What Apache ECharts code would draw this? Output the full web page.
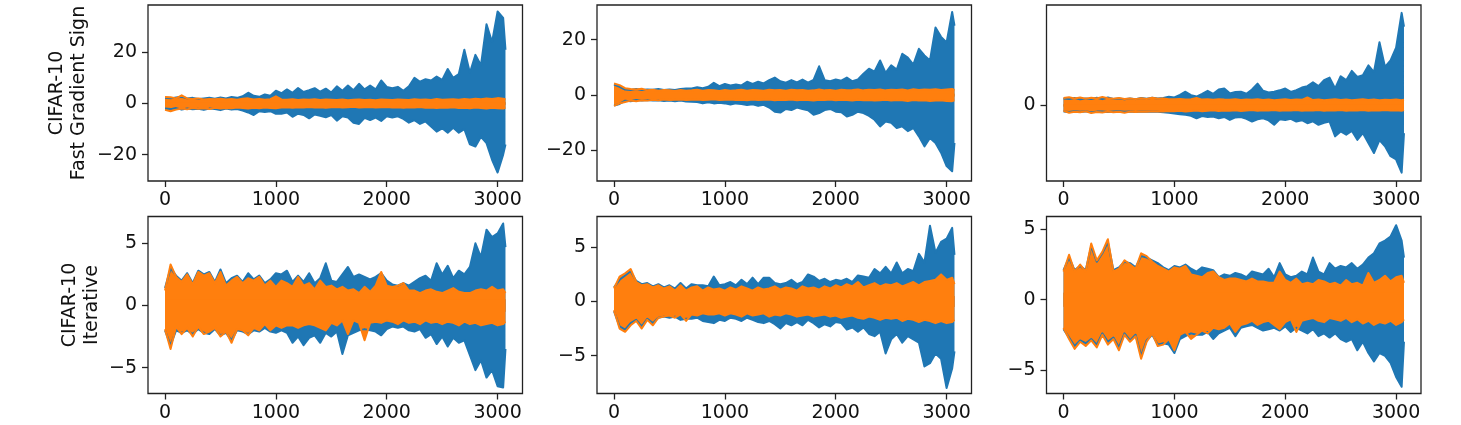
<!DOCTYPE html>
<html><head><meta charset="utf-8">
<script src="https://cdn.jsdelivr.net/npm/echarts@6/dist/echarts.min.js"></script>
<style>html,body{margin:0;padding:0;background:#fff}#c{width:1461px;height:425px}</style>
</head><body><div id="c"></div>
<script>
const sampleX = [0,50,100,150,200,250,300,350,400,450,500,550,600,650,700,750,800,850,900,950,1000,1050,1100,1150,1200,1250,1300,1350,1400,1450,1500,1550,1600,1650,1700,1750,1800,1850,1900,1950,2000,2050,2100,2150,2200,2250,2300,2350,2400,2450,2500,2550,2600,2650,2700,2750,2800,2850,2900,2950,3000,3050,3071];

// Panel 1: CIFAR-10 Fast Gradient Sign, column 1
const fgs1BlueTop = [2.2,2.0,2.3,2.6,2.0,2.2,1.8,2.0,2.2,1.9, 2.3,2.0,2.5,2.2,2.8,4.2,3.0,2.6,3.5,3.0, 5.0,4.0,5.5,4.2,6.0,4.5,5.2,6.0,4.6,5.8, 4.3,6.7,5.0,7.0,5.2,7.7,5.5,7.0,5.5,9.0, 6.5,6.0,6.5,5.0,6.7,10.0,8.5,9.5,9.0,10.5, 9.2,13.5,10.0,11.5,21.0,12.0,19.0,15.0,31.0,24.0, 36.0,33.5,21.0];
const fgs1BlueBot = [-2.0,-2.2,-1.8,-2.4,-2.0,-2.3,-2.1,-2.5,-2.0,-2.2, -2.6,-2.0,-2.4,-2.2,-2.8,-3.5,-4.5,-3.0,-3.3,-3.0, -4.0,-4.0,-3.5,-5.2,-4.0,-4.5,-5.8,-4.3,-4.8,-5.4, -4.5,-6.7,-5.0,-5.5,-7.5,-8.0,-5.6,-6.5,-5.5,-6.8, -5.0,-5.5,-5.0,-6.0,-7.5,-6.5,-8.0,-7.0,-9.0,-11.0, -9.7,-11.4,-9.5,-11.4,-10.0,-16.0,-16.8,-13.0,-15.5,-22.0, -27.0,-20.0,-16.0];
const fgs1OrangeTop = [2.5,2.4,2.0,3.2,2.0,1.8,2.0,1.6,1.8,1.7, 1.9,1.6,1.8,1.5,1.9,2.0,1.6,1.8,1.5,1.7, 2.8,1.6,1.5,1.7,1.4,1.6,1.5,1.7,1.4,1.6, 1.5,1.4,1.6,1.3,1.5,1.6,1.4,1.5,1.3,1.6, 1.5,1.4,1.6,1.5,1.4,1.7,1.5,1.6,1.4,1.8, 1.5,1.6,1.7,1.5,1.8,1.6,1.9,1.7,2.0,1.8, 2.1,1.9,1.7];
const fgs1OrangeBot = [-2.5,-3.0,-2.4,-2.0,-2.3,-1.8,-2.1,-1.9,-2.2,-1.7, -2.0,-1.8,-1.9,-1.6,-1.8,-2.0,-1.7,-1.9,-1.6,-1.8, -1.9,-1.6,-1.5,-1.7,-1.5,-1.6,-1.4,-1.6,-1.5,-1.7, -1.5,-1.4,-1.6,-1.5,-1.3,-1.6,-1.5,-1.4,-1.6,-1.5, -1.4,-1.6,-1.5,-1.7,-1.5,-1.6,-1.4,-1.7,-1.6,-1.8, -1.6,-1.7,-1.5,-1.8,-1.7,-1.9,-1.6,-1.8,-2.0,-1.7, -1.9,-2.0,-1.7];

// Panel 2: Fast Gradient Sign, column 2
const fgs2BlueTop = [3.8,3.0,2.0,1.8,2.2,1.8,2.0,1.9,2.2,1.8, 2.0,1.8,2.2,2.4,2.4,2.8,2.5,3.0,4.4,3.2, 4.0,3.5,3.8,3.5,4.8,4.0,4.8,4.2,5.4,6.3, 5.0,4.5,5.4,4.6,5.6,4.5,5.5,10.4,5.4,5.0, 5.6,5.2,6.3,5.0,5.6,7.7,9.5,8.5,12.5,8.0, 10.7,9.2,14.9,13.5,11.0,16.7,14.3,12.5,24.4,21.0, 19.0,30.0,25.0];
const fgs2BlueBot = [-3.8,-3.2,-2.0,-2.2,-1.8,-2.0,-1.8,-2.0,-1.9,-2.1, -2.0,-2.2,-2.0,-2.3,-2.4,-2.5,-3.0,-2.6,-3.0,-2.8, -3.0,-3.4,-3.0,-3.2,-3.6,-3.3,-3.9,-3.5,-4.5,-6.0, -6.3,-5.0,-5.4,-4.5,-5.0,-5.5,-7.1,-6.5,-5.4,-5.0, -6.0,-6.2,-7.7,-7.1,-6.0,-6.5,-7.5,-8.9,-11.3,-9.5, -10.0,-11.9,-11.3,-13.0,-11.9,-14.9,-18.5,-15.5,-17.3,-20.8, -25.6,-27.5,-17.3];
const fgs2OrangeTop = [4.2,3.6,2.5,2.2,2.0,2.3,1.7,1.9,1.6,1.8, 1.7,1.5,1.8,1.6,1.7,1.9,1.6,1.8,1.7,1.5, 1.8,1.6,1.7,1.9,1.6,1.8,1.7,1.6,1.9,1.7, 1.8,1.6,1.9,1.7,1.8,1.6,1.7,2.0,1.7,1.8, 1.6,1.9,1.7,1.8,2.0,1.7,1.9,1.8,2.0,1.7, 1.9,1.8,2.0,1.7,2.1,1.8,2.0,1.9,2.1,1.8, 2.0,2.2,1.8];
const fgs2OrangeBot = [-3.9,-3.0,-2.5,-2.0,-2.2,-1.9,-2.0,-1.7,-1.9,-1.6, -1.8,-1.7,-1.6,-1.8,-1.7,-1.6,-1.8,-1.7,-1.5,-1.8, -1.7,-1.6,-1.8,-1.7,-1.9,-1.6,-1.8,-1.7,-1.6,-1.9, -1.7,-1.8,-1.6,-1.9,-1.7,-1.8,-2.0,-1.7,-1.8,-1.6, -1.9,-1.7,-1.8,-2.0,-1.7,-1.9,-1.8,-2.0,-1.9,-1.7, -2.0,-1.8,-1.9,-2.1,-1.8,-2.0,-1.9,-2.1,-2.0,-1.9, -2.1,-2.2,-1.9];

// Panel 3: Fast Gradient Sign, column 3
const fgs3BlueTop = [3.0,2.8,3.2,2.6,3.0,2.8,3.3,2.7,3.4,2.8, 3.0,2.6,3.0,2.7,3.2,2.9,3.3,3.0,3.2,3.7, 3.4,4.5,5.9,4.4,3.8,5.0,6.3,5.0,6.9,7.3, 5.2,5.8,5.9,5.0,6.9,9.4,6.3,5.6,5.9,6.5, 7.3,5.8,6.6,7.7,8.3,10.0,8.3,10.9,12.0,7.3, 12.6,10.9,14.9,12.3,13.0,17.3,14.4,27.3,16.6,19.4, 25.0,40.0,34.0];
const fgs3BlueBot = [-2.7,-2.9,-2.5,-2.8,-2.6,-3.0,-2.7,-2.6,-2.9,-2.7, -2.5,-2.8,-2.6,-2.9,-2.7,-2.8,-2.6,-2.8,-3.0,-3.2, -3.5,-3.8,-4.1,-4.5,-5.6,-4.6,-5.0,-4.8,-5.6,-5.0, -6.3,-5.2,-5.0,-5.8,-7.0,-6.0,-5.6,-6.5,-8.4,-6.0, -6.3,-5.8,-7.0,-6.4,-7.7,-6.9,-8.4,-7.5,-7.0,-13.4, -11.3,-12.7,-11.0,-14.9,-12.0,-16.3,-20.6,-15.0,-17.7,-22.0, -23.4,-29.1,-12.0];
const fgs3OrangeTop = [3.2,3.5,3.0,3.4,2.9,3.3,3.0,3.6,3.1,2.9, 3.2,2.8,3.0,2.7,3.1,2.8,3.3,2.9,3.0,2.7, 2.6,2.8,2.5,2.7,3.2,2.5,2.6,2.4,2.7,2.5, 2.4,2.6,2.3,2.5,2.4,2.6,2.3,2.5,2.2,2.4, 2.6,2.3,2.5,2.4,3.4,2.3,2.5,2.2,2.4,2.6, 2.3,2.5,2.2,2.4,2.6,2.3,2.5,2.2,2.4,2.3, 2.5,2.2,2.4];
const fgs3OrangeBot = [-2.4,-3.2,-2.8,-3.0,-2.6,-3.3,-2.9,-3.1,-2.7,-3.0, -2.8,-3.2,-2.7,-2.9,-2.6,-2.8,-2.5,-2.7,-2.6,-2.4, -2.5,-2.3,-2.6,-2.4,-2.2,-2.5,-2.3,-2.1,-2.4,-2.2, -2.3,-2.1,-2.4,-2.2,-2.0,-2.3,-2.1,-2.2,-2.0,-2.3, -2.1,-2.2,-2.0,-2.3,-2.1,-2.2,-2.0,-2.3,-2.1,-2.2, -2.0,-2.3,-2.1,-2.2,-2.0,-2.3,-2.1,-2.2,-2.0,-2.2, -2.1,-2.3,-2.0];

// Panel 4: CIFAR-10 Iterative, column 1
const it1BlueTop = [1.4,3.0,2.4,2.0,2.6,1.8,2.8,2.5,2.7,1.9, 2.9,1.8,2.2,2.4,1.9,2.6,2.1,2.4,1.8,2.1, 2.6,2.5,2.8,1.9,2.4,1.9,2.6,1.8,2.2,3.4, 2.0,1.9,2.5,3.1,2.3,2.5,2.3,2.1,2.3,2.6, 2.0,1.7,1.6,1.8,1.6,1.9,2.2,2.4,2.0,3.4, 2.5,3.2,2.2,2.8,2.5,3.1,5.0,3.9,6.1,5.5, 5.8,6.6,4.7];
const it1BlueBot = [-2.0,-3.2,-2.0,-2.2,-2.0,-2.3,-1.9,-2.2,-2.3,-1.9, -2.4,-2.2,-2.8,-2.0,-2.1,-2.3,-2.0,-2.1,-1.8,-2.1, -2.2,-2.0,-2.2,-3.0,-2.5,-3.2,-2.6,-2.4,-3.0,-2.2, -2.5,-2.1,-3.9,-2.4,-2.2,-2.0,-1.9,-2.0,-2.1,-2.4, -1.9,-1.7,-1.8,-1.7,-2.0,-2.1,-1.9,-2.6,-2.3,-3.1, -2.5,-3.3,-2.6,-3.0,-2.8,-4.0,-5.2,-4.4,-5.8,-5.2, -6.5,-6.6,-3.5];
const it1OrangeTop = [1.2,3.3,2.3,1.9,2.5,1.7,2.7,2.4,2.6,1.8, 2.7,1.6,2.0,2.3,1.8,2.2,2.0,2.3,1.6,2.0, 1.5,2.0,1.8,1.5,2.3,1.6,1.8,1.3,2.0,1.5, 1.6,1.3,1.5,1.2,1.3,1.0,1.5,1.1,1.6,2.7, 1.6,1.5,1.6,1.8,1.2,1.2,1.0,1.2,1.3,1.1, 1.0,1.2,1.4,1.1,1.0,1.0,1.2,1.3,1.2,1.5, 1.2,1.3,1.0];
const it1OrangeBot = [-1.9,-3.5,-1.7,-2.3,-1.8,-2.5,-1.7,-2.3,-2.1,-1.8, -2.5,-2.1,-3.0,-1.9,-2.0,-2.4,-1.8,-2.0,-1.5,-2.0, -1.6,-1.8,-1.6,-1.6,-1.8,-1.6,-1.5,-1.6,-1.8,-2.0, -1.4,-1.6,-1.2,-2.3,-1.2,-1.4,-2.8,-1.4,-1.3,-1.4, -1.2,-1.3,-1.5,-1.2,-1.4,-1.3,-1.5,-1.2,-1.4,-1.3, -1.5,-1.3,-1.4,-1.6,-1.3,-1.5,-1.4,-1.6,-1.5,-1.4, -1.6,-1.5,-1.3];

// Panel 5: Iterative, column 2
const it2BlueTop = [1.3,2.0,2.4,2.8,1.9,1.6,1.7,1.4,1.6,1.3, 1.5,1.2,1.7,1.2,1.6,1.5,1.5,1.4,2.3,1.5, 1.6,1.8,1.5,2.0,1.6,2.2,1.6,2.2,2.2,1.7, 1.6,1.7,2.0,1.6,1.8,2.5,2.3,1.9,2.1,1.8, 2.0,1.9,2.1,1.8,2.4,2.3,2.2,3.0,2.6,3.2, 2.6,3.6,2.6,3.0,2.8,4.4,3.6,7.0,4.5,5.5, 5.8,6.8,4.3];
const it2BlueBot = [-0.9,-2.3,-2.6,-2.0,-1.7,-2.3,-1.6,-2.0,-1.5,-1.4, -1.5,-1.4,-1.7,-1.6,-1.6,-1.5,-1.8,-1.9,-2.0,-1.7, -1.8,-1.5,-1.6,-1.8,-1.5,-1.7,-1.9,-2.0,-1.8,-2.1, -2.5,-2.0,-2.2,-1.9,-2.2,-1.7,-2.0,-2.4,-2.1,-2.3, -1.9,-2.0,-2.6,-2.4,-2.8,-2.4,-3.0,-3.2,-2.8,-4.8, -3.5,-3.0,-3.8,-3.2,-3.5,-3.8,-6.0,-5.7,-4.8,-5.3, -8.0,-6.2,-4.6];
const it2OrangeTop = [1.2,2.3,2.6,3.0,1.8,1.5,1.6,1.3,1.5,1.2, 1.4,1.0,1.5,1.0,1.3,1.4,1.0,1.3,1.1,1.2, 1.0,1.3,1.1,1.4,1.2,1.0,1.3,1.1,1.2,1.4, 1.1,1.3,1.2,1.0,1.4,1.2,1.3,1.1,1.4,1.2, 1.5,1.3,1.6,1.4,1.8,1.3,1.5,1.7,1.4,1.6, 1.5,1.7,1.4,1.6,1.8,1.5,1.8,1.9,2.0,2.5, 2.0,2.2,1.6];
const it2OrangeBot = [-0.8,-2.5,-2.8,-2.2,-1.8,-2.5,-1.7,-2.2,-1.5,-1.4, -1.3,-1.5,-1.2,-1.8,-1.2,-1.3,-1.1,-1.2,-1.2,-1.1, -1.3,-1.1,-1.2,-1.4,-1.1,-1.3,-1.2,-1.1,-1.4,-1.2, -1.3,-1.1,-1.2,-1.4,-1.3,-1.2,-1.4,-1.3,-1.2,-1.4, -1.3,-1.5,-1.4,-1.3,-1.5,-1.6,-1.4,-1.5,-1.7,-1.5, -1.6,-1.5,-1.8,-1.6,-1.7,-1.9,-1.7,-1.8,-2.0,-1.8, -2.0,-1.9,-1.7];

// Panel 6: Iterative, column 3
const it3BlueTop = [2.1,3.0,2.1,2.4,2.1,3.8,2.7,3.3,4.1,2.1, 2.3,2.7,2.6,2.3,3.1,3.0,2.8,2.6,2.3,2.1, 2.4,2.3,2.5,2.2,2.0,2.3,2.2,2.1,1.6,1.8, 1.7,1.9,1.8,1.6,2.0,1.9,1.8,2.2,1.6,2.6, 1.8,1.6,1.7,2.0,1.8,3.0,2.0,1.8,2.6,2.2, 2.4,2.3,2.6,2.2,2.5,3.0,3.3,4.0,4.2,4.5, 5.3,4.2,3.0];
const it3BlueBot = [-2.1,-2.7,-3.3,-2.9,-3.1,-2.8,-3.2,-2.4,-3.0,-2.7, -3.4,-2.4,-2.9,-2.5,-4.0,-2.9,-2.5,-3.2,-3.1,-3.2, -3.8,-2.8,-2.6,-2.4,-2.5,-2.5,-2.3,-2.8,-2.4,-2.2, -2.0,-2.6,-2.0,-1.9,-1.8,-2.0,-2.2,-2.1,-2.0,-2.2, -1.9,-2.3,-2.0,-2.2,-2.4,-2.1,-2.6,-2.4,-2.7,-2.4, -2.8,-3.0,-2.8,-3.6,-3.0,-3.8,-4.4,-3.8,-4.0,-4.5, -5.5,-6.2,-3.0];
const it3OrangeTop = [2.0,3.2,2.0,2.5,2.0,4.0,2.8,3.4,4.3,2.0, 2.2,2.8,2.5,2.2,3.3,3.1,2.7,2.4,2.2,2.0, 2.3,2.2,2.4,1.8,1.7,1.6,1.9,2.0,1.6,1.4, 1.5,1.5,1.4,1.3,1.5,1.3,1.3,1.2,1.2,2.0, 1.4,1.2,1.5,1.1,1.2,1.1,1.4,1.3,1.1,1.2, 1.0,1.4,1.1,1.2,1.0,1.9,1.2,1.4,1.7,1.3, 1.6,1.7,1.2];
const it3OrangeBot = [-2.0,-2.8,-3.5,-3.0,-3.3,-2.9,-3.4,-2.5,-3.2,-2.8, -3.6,-2.5,-3.0,-2.6,-4.2,-3.0,-2.4,-3.3,-3.2,-2.8, -3.6,-2.5,-2.3,-2.8,-2.5,-2.2,-2.4,-2.0,-2.1,-2.0, -1.7,-2.3,-1.8,-1.7,-1.5,-1.8,-1.6,-1.5,-1.8,-2.1, -1.6,-1.4,-2.3,-1.5,-1.4,-1.3,-1.5,-1.6,-1.3,-1.4, -1.5,-1.3,-1.6,-1.4,-1.7,-1.5,-1.8,-1.6,-1.7,-1.5, -1.8,-1.6,-1.4];

// Tick labels
const xTickValues = [0, 1000, 2000, 3000];
const yTickValues = [[-20, 0, 20], [-20, 0, 20], [0], [-5, 0, 5], [-5, 0, 5], [-5, 0, 5]];
const rowTitles = ['CIFAR-10\nFast Gradient Sign', 'CIFAR-10\nIterative'];

const panels = [
  { top: fgs1BlueTop, bot: fgs1BlueBot, oTop: fgs1OrangeTop, oBot: fgs1OrangeBot, yMin: -30.3, yMax: 38.5 },
  { top: fgs2BlueTop, bot: fgs2BlueBot, oTop: fgs2OrangeTop, oBot: fgs2OrangeBot, yMin: -31.0, yMax: 32.5 },
  { top: fgs3BlueTop, bot: fgs3BlueBot, oTop: fgs3OrangeTop, oBot: fgs3OrangeBot, yMin: -32.7, yMax: 43.4 },
  { top: it1BlueTop, bot: it1BlueBot, oTop: it1OrangeTop, oBot: it1OrangeBot, yMin: -7.08, yMax: 7.16 },
  { top: it2BlueTop, bot: it2BlueBot, oTop: it2OrangeTop, oBot: it2OrangeBot, yMin: -8.5, yMax: 7.85 },
  { top: it3BlueTop, bot: it3BlueBot, oTop: it3OrangeTop, oBot: it3OrangeBot, yMin: -6.68, yMax: 5.92 }
];

const BLUE = '#1f77b4', ORANGE = '#ff7f0e';
const FONT = 'DejaVu Sans';
const colLeft = [148, 597, 1046.5];
const rowTop = [5, 216.5];
const rowHeight = [176, 177];
const nameGaps = [58, 45];

const grids = [], xAxes = [], yAxes = [], series = [];
const fmt = v => String(v).replace('-', '\u2212');

panels.forEach((p, i) => {
  const r = Math.floor(i / 3), c = i % 3;
  grids.push({ left: colLeft[c], top: rowTop[r], width: 374.5, height: rowHeight[r],
    show: true, borderColor: '#222', borderWidth: 1.3, backgroundColor: 'transparent', containLabel: false });
  xAxes.push({ type: 'value', gridIndex: i, min: -153.55, max: 3224.55, position: 'bottom',
    axisLine: { show: false, onZero: false }, splitLine: { show: false },
    axisTick: { show: true, length: 6, customValues: xTickValues, lineStyle: { color: '#222', width: 1.3 } },
    axisLabel: { customValues: xTickValues, margin: 10, color: '#111', fontFamily: FONT, fontSize: 19, formatter: fmt } });
  const y = { type: 'value', gridIndex: i, min: p.yMin, max: p.yMax, position: 'left',
    axisLine: { show: false, onZero: false }, splitLine: { show: false },
    axisTick: { show: true, length: 6, customValues: yTickValues[i], lineStyle: { color: '#222', width: 1.3 } },
    axisLabel: { customValues: yTickValues[i], margin: 11, color: '#111', fontFamily: FONT, fontSize: 19, formatter: fmt } };
  if (c === 0) {
    Object.assign(y, { name: rowTitles[r], nameLocation: 'middle', nameRotate: 90, nameGap: nameGaps[r],
      nameTextStyle: { color: '#111', fontFamily: FONT, fontSize: 19, lineHeight: 22, align: 'center' } });
  }
  yAxes.push(y);
  // top envelope fills down slightly past zero, bottom envelope fills up slightly past zero,
  // so the two halves overlap and no seam shows at y = 0
  const mk = (arr, color, origin) => ({
    type: 'line', xAxisIndex: i, yAxisIndex: i, symbol: 'none', animation: false, silent: true,
    data: sampleX.map((x, j) => [x, arr[j]]),
    lineStyle: { color, width: 2, join: 'round' },
    areaStyle: { color, opacity: 1, origin }
  });
  series.push(mk(p.top, BLUE, -0.5), mk(p.bot, BLUE, 0.5), mk(p.oTop, ORANGE, -0.5), mk(p.oBot, ORANGE, 0.5));
});

const chart = echarts.init(document.getElementById('c'), null, { renderer: 'canvas' });
chart.setOption({ backgroundColor: '#fff', animation: false, grid: grids, xAxis: xAxes, yAxis: yAxes, series });
</script>
</body></html>
